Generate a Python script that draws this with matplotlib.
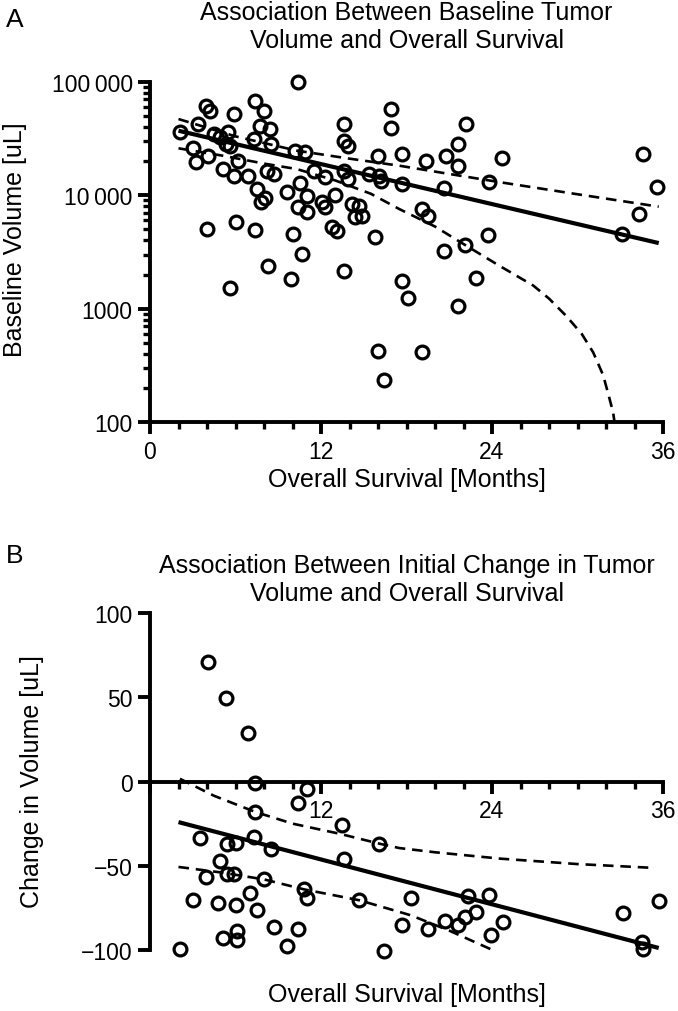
import numpy as np
import matplotlib
matplotlib.use("Agg")
import matplotlib.pyplot as plt
from matplotlib.ticker import FixedLocator, MultipleLocator, LogLocator, NullFormatter

plt.rcParams["font.family"] = ["Liberation Sans", "DejaVu Sans"]

# ---- panel A : baseline volume vs overall survival ----
os_a = [10.4, 2.1, 3.4, 3.9, 4.2, 5.9, 7.4, 8.0, 7.7, 8.4,
        3.0, 3.2, 4.1, 4.5, 4.9, 5.5, 5.3, 5.6, 5.1, 5.9,
        6.2, 6.9, 7.3, 8.5, 8.2, 8.7, 7.5, 7.8, 8.1, 9.6,
        10.2, 10.9, 10.5, 10.4, 11.0, 11.0, 11.5, 12.3, 12.1, 12.3,
        13.0, 12.8, 13.1, 13.6, 13.6, 13.9, 13.6, 13.9, 14.2, 14.7,
        14.4, 14.9, 15.8, 16.0, 15.4, 16.1, 16.2, 16.9, 16.9, 17.7,
        17.7, 4.0, 6.0, 7.4, 10.0, 10.7, 8.3, 9.9, 13.6, 5.6,
        17.7, 18.1, 16.0, 16.4, 19.4, 20.8, 21.6, 22.2, 21.6, 24.7,
        23.8, 20.6, 19.1, 19.5, 23.7, 22.1, 20.6, 22.9, 21.6, 19.1,
        34.6, 35.6, 34.3, 33.1]
vol_a = [99000, 36200, 42400, 60700, 55500, 51900, 68100, 55500, 40900, 38300,
         25900, 19500, 22300, 34600, 32400, 35800, 28200, 27300, 17000, 14700,
         20100, 14900, 31300, 28200, 16400, 15400, 11400, 8650, 9400, 10700,
         24700, 23900, 12800, 7820, 7060, 9900, 16400, 14400, 8650, 7820,
         10000, 5210, 4870, 42400, 30200, 27300, 16400, 13900, 8360, 8070,
         6380, 6590, 4260, 22300, 15400, 14900, 13400, 57400, 38800, 23100,
         12600, 5030, 5770, 4970, 4550, 3030, 2390, 1830, 2160, 1510,
         1770, 1240, 427, 236, 20100, 22000, 28200, 42400, 18200, 21100,
         13000, 11500, 7550, 6590, 4460, 3640, 3240, 1860, 1050, 413,
         23100, 11700, 6820, 4550]

fit_a_x = [2.0, 35.7]
fit_a_y = [37000, 3790]
upper_a_x = [2.0, 6.0, 10.3, 14.0, 17.5, 21.0, 24.6, 30.0, 35.7]
upper_a_y = [46900, 33000, 24700, 21000, 18200, 15400, 13000, 10200, 7930]
lower_a_x = [2.0, 5.1, 8.0, 10.3, 13.0, 15.5, 17.5, 20.0, 22.2, 24.5, 26.9,
             28.0, 29.2, 30.3, 31.1, 31.8, 32.2, 32.5, 32.6]
lower_a_y = [25900, 22300, 19000, 17000, 13500, 10300, 7550, 5300, 3590, 2400, 1600,
             1230, 867, 600, 413, 260, 170, 122, 100]

# ---- panel B : initial change in volume vs overall survival ----
os_b = [4.1, 5.3, 6.9, 7.4, 11.0, 10.4, 7.4, 13.5, 16.1, 3.5,
        5.4, 6.0, 7.3, 8.5, 13.6, 4.9, 3.9, 5.4, 5.9, 8.0,
        10.8, 11.0, 14.7, 7.0, 3.0, 4.8, 6.0, 7.5, 8.7, 10.4,
        5.1, 6.1, 6.1, 9.6, 2.1, 16.4, 17.7, 18.3, 19.5, 20.7,
        21.6, 22.1, 22.9, 22.3, 23.8, 24.8, 23.9, 33.2, 35.7, 34.5,
        34.6]
chg_b = [71.1, 49.4, 28.9, -0.8, -4.7, -12.6, -18.1, -26.1, -36.9, -33.6,
         -36.9, -36.3, -33.0, -39.9, -45.8, -47.4, -56.7, -54.7, -54.7, -58.1,
         -64.0, -69.1, -70.5, -66.0, -70.5, -71.9, -73.5, -76.5, -86.3, -87.7,
         -92.8, -88.9, -94.2, -97.6, -99.2, -100.5, -85.4, -69.1, -87.3, -83.0,
         -85.4, -80.4, -77.4, -67.9, -67.6, -83.3, -91.3, -77.8, -71.1, -95.2,
         -99.6]

fit_b_x = [2.0, 35.7]
fit_b_y = [-24.1, -98.8]
upper_b_x = [2.1, 4.5, 7.4, 10.0, 13.3, 16.1, 17.5, 20.0, 24.6, 30.0, 35.4]
upper_b_y = [1.6, -8.5, -18.1, -25.0, -31.0, -36.9, -39.5, -42.0, -45.8, -49.0, -51.3]
lower_b_x = [2.0, 5.0, 8.0, 10.8, 14.7, 17.5, 18.3, 21.0, 24.3]
lower_b_y = [-50.7, -54.0, -58.1, -64.0, -70.5, -77.4, -79.4, -88.5, -101.0]

fig = plt.figure(figsize=(6.78, 10.12), dpi=100)
W, H = 678.0, 1012.0

def px_axes(l, t, r, b):
    return fig.add_axes([l / W, 1 - b / H, (r - l) / W, (b - t) / H])

spine_w = 2.8
mk = dict(marker="o", mfc="none", mec="black", mew=2.3, ms=9.2, ls="none", clip_on=False)

# top panel
ax1 = px_axes(150, 82.7, 663, 423.3)
ax1.plot(os_a, vol_a, **mk)
ax1.plot(fit_a_x, fit_a_y, color="black", lw=3.0, solid_capstyle="butt")
ax1.plot(upper_a_x, upper_a_y, color="black", lw=1.9, ls=(0, (4, 2.6)))
ax1.plot(lower_a_x, lower_a_y, color="black", lw=1.9, ls=(0, (4, 2.6)))
ax1.set_yscale("log")
ax1.set_xlim(0, 36)
ax1.set_ylim(100, 100000)
ax1.spines[["top", "right"]].set_visible(False)
for s in ["left", "bottom"]:
    ax1.spines[s].set_linewidth(spine_w)
ax1.xaxis.set_major_locator(FixedLocator([0, 12, 24, 36]))
ax1.xaxis.set_minor_locator(MultipleLocator(2))
ax1.yaxis.set_major_locator(FixedLocator([100, 1000, 10000, 100000]))
ax1.yaxis.set_minor_locator(LogLocator(base=10, subs=np.arange(2, 10)))
ax1.yaxis.set_minor_formatter(NullFormatter())
ax1.set_yticklabels(["100", "1000", "10\u2009000", "100\u2009000"])
ax1.tick_params(which="major", length=8.5, width=2.8, labelsize=16.5, pad=4)
ax1.tick_params(which="minor", length=5, width=2.4)
ax1.set_xlabel("Overall Survival [Months]", fontsize=18, labelpad=3)

# bottom panel
ax2 = px_axes(150, 614, 663, 951)
ax2.plot(os_b, chg_b, **mk)
ax2.plot(fit_b_x, fit_b_y, color="black", lw=3.0, solid_capstyle="butt")
ax2.plot(upper_b_x, upper_b_y, color="black", lw=1.9, ls=(0, (4, 2.6)))
ax2.plot(lower_b_x, lower_b_y, color="black", lw=1.9, ls=(0, (4, 2.6)), clip_on=False)
ax2.set_xlim(0, 36)
ax2.set_ylim(-100, 100)
ax2.spines[["top", "right"]].set_visible(False)
ax2.spines["bottom"].set_position(("data", 0))
for s in ["left", "bottom"]:
    ax2.spines[s].set_linewidth(spine_w)
ax2.xaxis.set_major_locator(FixedLocator([0, 12, 24, 36]))
ax2.xaxis.set_minor_locator(MultipleLocator(2))
ax2.set_xticklabels(["", "12", "24", "36"])
ax2.yaxis.set_major_locator(FixedLocator([-100, -50, 0, 50, 100]))
ax2.tick_params(which="major", length=8.5, width=2.8, labelsize=16.5, pad=4)
ax2.tick_params(which="minor", length=5, width=2.4)
ax2.tick_params(axis="y", which="minor", length=0)
ax2.set_xlabel("Overall Survival [Months]", fontsize=18)
ax2.xaxis.set_label_coords(0.5, -0.095)

cx = (150 + 663) / 2 / W
fig.text(cx, 1 - 27 / H, "Association Between Baseline Tumor\nVolume and Overall Survival",
         ha="center", va="center", fontsize=18, linespacing=1.2)
fig.text(cx, 1 - 580 / H, "Association Between Initial Change in Tumor\nVolume and Overall Survival",
         ha="center", va="center", fontsize=18, linespacing=1.2)
fig.text(15 / W, 1 - 20 / H, "A", ha="center", va="center", fontsize=19)
fig.text(15 / W, 1 - 556 / H, "B", ha="center", va="center", fontsize=19)
fig.text(15 / W, 1 - 240 / H, "Baseline Volume [uL]", rotation=90, ha="center", va="center", fontsize=18)
fig.text(32 / W, 1 - 782 / H, "Change in Volume [uL]", rotation=90, ha="center", va="center", fontsize=18)

fig.savefig("out.png", dpi=100)
